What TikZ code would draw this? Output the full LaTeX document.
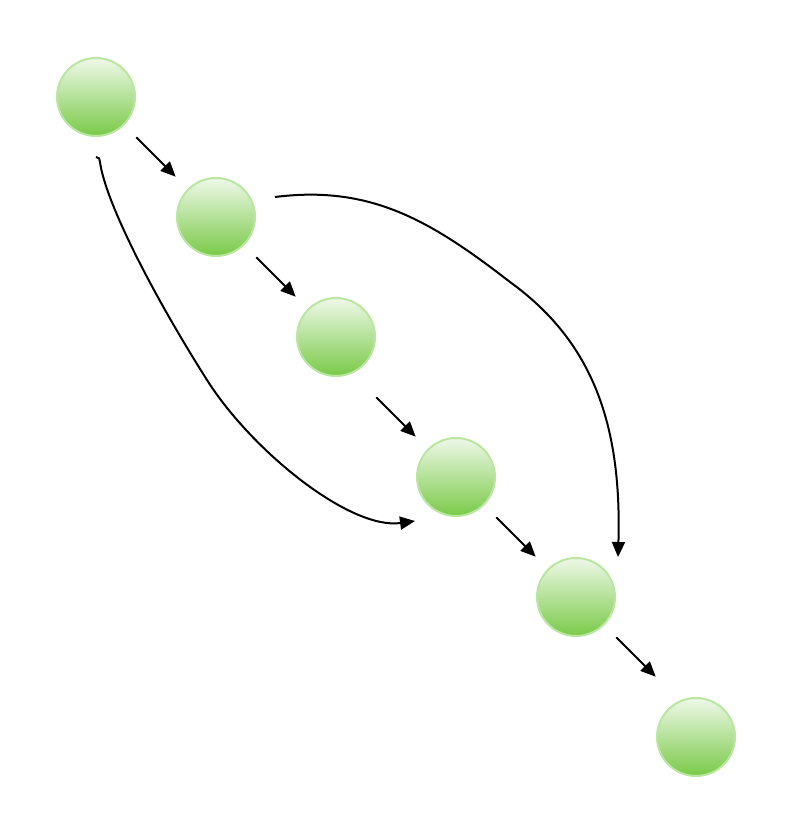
\documentclass[tikz,border=0pt]{standalone}
\usepackage{tikz}
\usepackage{xcolor}
\usetikzlibrary{arrows.meta, positioning, calc}
\definecolor{balltop}{RGB}{238,248,232}
\definecolor{ballmid}{RGB}{172,224,136}
\definecolor{ballbot}{RGB}{122,202,72}
\definecolor{ballrim}{RGB}{186,230,162}

\begin{document}
\begin{tikzpicture}[x=1pt, y=-1pt,
    ball/.style={circle, minimum size=78pt, inner sep=0pt, draw=ballrim, line width=2pt,
        top color=balltop, middle color=ballmid, bottom color=ballbot},
    link/.style={line width=2pt, -{Triangle[length=15pt, width=13pt]}}]
\useasboundingbox (0,0) rectangle (792,836);

% chain of balls
\foreach \i/\x/\y in {1/96/97, 2/216/217, 3/336/337, 4/456/477, 5/576/597, 6/696/737} {
    \node[ball] (n\i) at (\x,\y) {};
}

% short steps
\foreach \a/\b in {1/2, 2/3, 4/5} {
    \draw[link] ([shift={(12,12)}]n\a.south east) -- ([shift={(-12,-12)}]n\b.north west);
}
\draw[link] ([shift={(12,32)}]n3.south east) -- ([shift={(-12,-12)}]n4.north west);
\draw[link] ([shift={(12,12)}]n5.south east) -- ([shift={(-12,-32)}]n6.north west);

% long jumps
\draw[link] ([shift={(0,20)}]n1.south) .. controls +(3,0) and +(0,-3) .. (100,162)
    .. controls (105,200) and (150,290) .. (207,380)
    .. controls (252,451) and (350,530) .. ([shift={(-1,44)}]n4.west);
\draw[link] ([shift={(19,-20)}]n2.east) .. controls (370,185) and (430,220) .. (510,282)
    .. controls (590,340) and (622,420) .. ([shift={(42,0)}]n5.north);
\end{tikzpicture}
\end{document}
